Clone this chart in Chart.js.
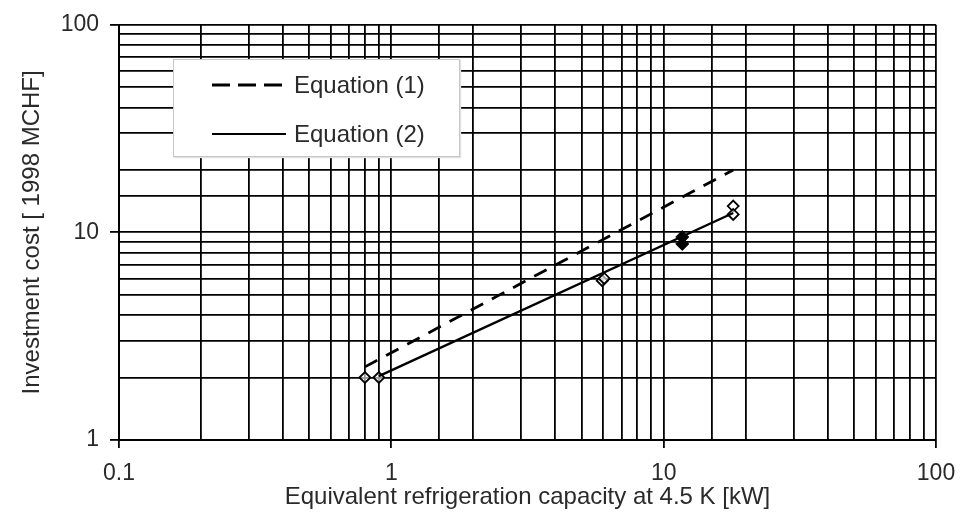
<!doctype html>
<html>

<head>
    <meta charset="utf-8" />
    <meta name="viewport" content="width=device-width, initial-scale=1" />

    <style>
        html,
        body {
            margin: 0px;
            padding: 0px;
            background-color: #ffffff;
            font-family: "Liberation Sans", Arial, sans-serif;
        }

        .wrap {
            position: relative;
            width: 969px;
            height: 515px;
        }

        .legend {
            position: absolute;
            left: 173px;
            top: 59px;
            width: 285px;
            height: 96px;
            background-color: #ffffff;
            border: 1px solid #c8c8c8;
            box-shadow: 1px 1px 1px #e0e0e0;
        }

        .legend-row {
            position: absolute;
            left: 38px;
            display: flex;
            align-items: center;
            font-size: 24px;
            color: #2a2a2a;
        }

        .legend-row svg {
            margin-right: 8px;
        }
    </style>

    <title>Investment cost vs refrigeration capacity</title>
</head>

<body>

    <div class="wrap">
        <canvas id="chart" width="969" height="515"></canvas>
        <div class="legend">
            <div class="legend-row" style="top: 11px;">
                <svg width="74" height="6"><line x1="0" y1="3" x2="74" y2="3" stroke="#000" stroke-width="2.8" stroke-dasharray="18,8" /></svg>
                <span>Equation (1)</span>
            </div>
            <div class="legend-row" style="top: 60px;">
                <svg width="74" height="6"><line x1="0" y1="3" x2="74" y2="3" stroke="#000" stroke-width="2.2" /></svg>
                <span>Equation (2)</span>
            </div>
        </div>
    </div>

    <script src="https://cdn.jsdelivr.net/npm/chart.js@4.4.0/dist/chart.umd.min.js"></script>

    <script>
        // Equation fits (straight lines on log-log axes)
        var eq1X = [0.8, 18];
        var eq1Y = [2.25, 20];
        var eq2X = [0.9, 18];
        var eq2Y = [2.03, 12.4];

        // measured plants, open markers
        var openX = [0.8, 0.9, 5.95, 6.05, 18, 18];
        var openY = [2.0, 2.0, 5.85, 6.0, 13.4, 12.2];

        // measured plants, filled markers
        var filledX = [11.7, 11.7];
        var filledY = [9.5, 8.8];

        var xTicks = [0.1, 1, 10, 100];
        var yTicks = [1, 10, 100];

        function pts(xs, ys) {
            return xs.map(function (x, i) { return { x: x, y: ys[i] }; });
        }

        function isDecade(v, list) {
            return list.some(function (t) { return Math.abs(v - t) < t * 1e-6; });
        }

        var textColor = '#2a2a2a';
        var gridColor = '#000000';

        var ctx = document.getElementById('chart').getContext('2d');
        var chart = new Chart(ctx, {
            type: 'scatter',
            data: {
                datasets: [
                    {
                        label: 'Equation (1)',
                        data: pts(eq1X, eq1Y),
                        showLine: true,
                        borderColor: '#000000',
                        borderWidth: 2.8,
                        borderDash: [14, 10],
                        pointRadius: 0
                    },
                    {
                        label: 'Equation (2)',
                        data: pts(eq2X, eq2Y),
                        showLine: true,
                        borderColor: '#000000',
                        borderWidth: 2.4,
                        pointRadius: 0
                    },
                    {
                        label: 'open',
                        data: pts(openX, openY),
                        pointStyle: 'rectRot',
                        pointRadius: 5.5,
                        borderWidth: 1.8,
                        borderColor: '#000000',
                        backgroundColor: 'rgba(255,255,255,0.6)'
                    },
                    {
                        label: 'filled',
                        data: pts(filledX, filledY),
                        pointStyle: 'rectRot',
                        pointRadius: 6.5,
                        borderWidth: 1,
                        borderColor: '#000000',
                        backgroundColor: '#000000'
                    }
                ]
            },
            options: {
                animation: false,
                responsive: false,
                layout: {
                    padding: { left: 0, right: 33, top: 20, bottom: 0 }
                },
                plugins: {
                    legend: { display: false },
                    tooltip: { enabled: false }
                },
                scales: {
                    x: {
                        type: 'logarithmic',
                        min: 0.1,
                        max: 100,
                        afterFit: function (scale) { scale.height = 75; },
                        grid: {
                            color: gridColor,
                            lineWidth: 1.8,
                            tickLength: 8,
                            tickColor: function (c) {
                                return c.tick && isDecade(c.tick.value, xTicks) ? gridColor : 'rgba(0,0,0,0)';
                            }
                        },
                        border: { color: gridColor, width: 2 },
                        ticks: {
                            autoSkip: false,
                            maxRotation: 0,
                            padding: 12,
                            color: textColor,
                            font: { family: 'Liberation Sans', size: 23 },
                            callback: function (value) {
                                return isDecade(value, xTicks) ? String(Number(value.toPrecision(3))) : '';
                            }
                        },
                        title: {
                            display: true,
                            text: 'Equivalent refrigeration capacity at 4.5 K [kW]',
                            color: textColor,
                            font: { family: 'Liberation Sans', size: 24 },
                            padding: { top: 0, bottom: 3 }
                        }
                    },
                    y: {
                        type: 'logarithmic',
                        min: 1,
                        max: 100,
                        afterFit: function (scale) { scale.width = 119; },
                        grid: {
                            color: gridColor,
                            lineWidth: 1.8,
                            tickLength: 9,
                            tickColor: function (c) {
                                return c.tick && isDecade(c.tick.value, yTicks) ? gridColor : 'rgba(0,0,0,0)';
                            }
                        },
                        border: { color: gridColor, width: 2 },
                        ticks: {
                            autoSkip: false,
                            padding: 11,
                            color: textColor,
                            font: { family: 'Liberation Sans', size: 23 },
                            callback: function (value) {
                                return isDecade(value, yTicks) ? String(Number(value.toPrecision(3))) : '';
                            }
                        },
                        title: {
                            display: true,
                            text: 'Investment cost [ 1998 MCHF]',
                            color: textColor,
                            font: { family: 'Liberation Sans', size: 24 },
                            padding: { top: 18, bottom: 0 }
                        }
                    }
                }
            }
        });
    </script>

</body>

</html>
